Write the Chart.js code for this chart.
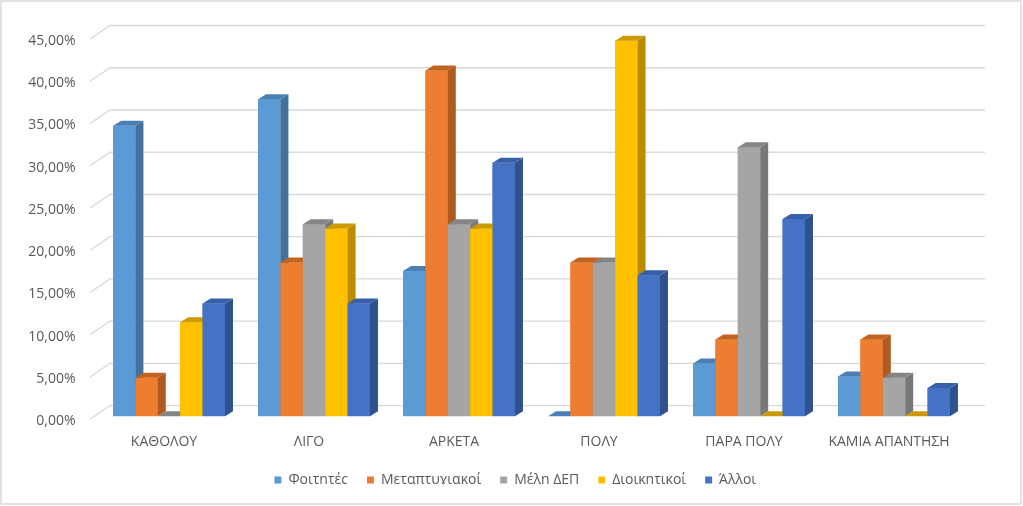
<!DOCTYPE html>
<html>
<head>
<meta charset="utf-8">
<script src="https://cdn.jsdelivr.net/npm/chart.js@4.4.1/dist/chart.umd.min.js"></script>
<style>
  html, body { margin: 0; padding: 0; background: #fff; }
</style>
</head>
<body>
<canvas id="chart" width="1023" height="506"></canvas>
<script>
// data (percent)
var categories = ["ΚΑΘΟΛΟΥ", "ΛΙΓΟ", "ΑΡΚΕΤΑ", "ΠΟΛΥ", "ΠΑΡΑ ΠΟΛΥ", "ΚΑΜΙΑ ΑΠΑΝΤΗΣΗ"];
var seriesNames = ["Φοιτητές", "Μεταπτυχιακοί", "Μέλη ΔΕΠ", "Διοικητικοί", "Άλλοι"];
var foitites = [34.38, 37.5, 17.19, 0, 6.25, 4.69];
var metaptyxiakoi = [4.55, 18.18, 40.91, 18.18, 9.09, 9.09];
var melhDep = [0, 22.73, 22.73, 18.18, 31.82, 4.55];
var dioikitikoi = [11.11, 22.22, 22.22, 44.44, 0, 0];
var alloi = [13.33, 13.33, 30, 16.67, 23.33, 3.33];
var yMax = 45;
var yStep = 5;

var frontColors = ["#5B9BD5", "#ED7D31", "#A5A5A5", "#FFC000", "#4472C4"];
var sideColors  = ["#41719C", "#AE5A21", "#787878", "#BC8C00", "#2F528F"];
var topColors   = ["#4A80B4", "#C2621F", "#858585", "#CC9A06", "#3760A8"];

var values = [foitites, metaptyxiakoi, melhDep, dioikitikoi, alloi];

// 3d look: bar depth and back wall offset
var barDx = 8, barDy = -5;
var wallDx = 20, wallFrontDy = 3, wallBackDy = -10.5;

var threeD = {
  id: "threeD",
  beforeInit: function (chart) {
    // legend sits closer to the axis labels than chart.js puts it
    var fit = chart.legend.fit;
    chart.legend.fit = function () { fit.call(this); this.height -= 13; };
  },
  afterLayout: function (chart) {
    var lg = chart.legend;
    lg.top -= 13; lg.bottom -= 13;
    lg.left += 32; lg.right += 32;
  },
  beforeDatasetsDraw: function (chart) {
    var ctx = chart.ctx;
    var area = chart.chartArea;
    var y = chart.scales.y;
    ctx.save();
    ctx.strokeStyle = "#D9D9D9";
    ctx.lineWidth = 1.3;
    y.ticks.forEach(function (t) {
      var py = y.getPixelForValue(t.value);
      var fx = area.left - 6.5;
      ctx.beginPath();
      ctx.moveTo(fx, py + wallFrontDy);
      ctx.lineTo(fx + wallDx, py + wallBackDy);
      ctx.lineTo(area.right + 18.5, py + wallBackDy);
      ctx.stroke();
    });
    ctx.restore();
  },
  afterDatasetsDraw: function (chart) {
    // redraw every bar left to right so each one hides the side of the one before
    var ctx = chart.ctx;
    ctx.save();
    for (var i = 0; i < chart.data.datasets.length; i++) {
      chart.getDatasetMeta(i).data.forEach(function (bar) {
        var p = bar.getProps(["x", "y", "base", "width"], true);
        var l = p.x - p.width / 2, r = p.x + p.width / 2;
        var t = Math.min(p.y, p.base), b = Math.max(p.y, p.base);
        ctx.fillStyle = frontColors[i];
        ctx.fillRect(l, t, r - l, b - t);
        ctx.fillStyle = sideColors[i];
        ctx.beginPath();
        ctx.moveTo(r, b);
        ctx.lineTo(r, t);
        ctx.lineTo(r + barDx, t + barDy);
        ctx.lineTo(r + barDx, b + barDy);
        ctx.closePath();
        ctx.fill();
        ctx.fillStyle = topColors[i];
        ctx.beginPath();
        ctx.moveTo(l, t);
        ctx.lineTo(l + barDx, t + barDy);
        ctx.lineTo(r + barDx, t + barDy);
        ctx.lineTo(r, t);
        ctx.closePath();
        ctx.fill();
      });
    }
    ctx.restore();
  },
  afterDraw: function (chart) {
    var ctx = chart.ctx;
    ctx.save();
    ctx.strokeStyle = "#D9D9D9";
    ctx.lineWidth = 1.5;
    ctx.strokeRect(1, 1, 1020, 503);
    ctx.restore();
  }
};

var datasets = seriesNames.map(function (name, i) {
  return {
    label: name,
    data: values[i],
    backgroundColor: frontColors[i],
    borderWidth: 0,
    categoryPercentage: 0.772,
    barPercentage: 1.0
  };
});

Chart.defaults.font.family = "'Open Sans', sans-serif";
Chart.defaults.font.size = 14;
Chart.defaults.color = "#595959";

new Chart(document.getElementById("chart"), {
  type: "bar",
  data: { labels: categories, datasets: datasets },
  options: {
    responsive: false,
    animation: false,
    layout: { padding: { left: 0, right: 56.5, top: 36, bottom: 9 } },
    plugins: {
      tooltip: { enabled: false },
      legend: {
        position: "bottom",
        labels: { boxWidth: 7, boxHeight: 7, padding: 19, color: "#595959", font: { size: 14 } }
      }
    },
    scales: {
      x: {
        grid: { display: false, drawTicks: false },
        border: { display: false },
        ticks: { padding: 17, labelOffset: -5, color: "#595959", maxRotation: 0 }
      },
      y: {
        min: 0,
        max: yMax,
        afterFit: function (scale) { scale.width = 96.5; },
        grid: { display: false, drawTicks: false },
        border: { display: false },
        ticks: {
          stepSize: yStep,
          padding: 21,
          labelOffset: 5,
          color: "#595959",
          callback: function (v) { return v.toFixed(2).replace(".", ",") + "%"; }
        }
      }
    }
  },
  plugins: [threeD]
});
</script>
</body>
</html>
